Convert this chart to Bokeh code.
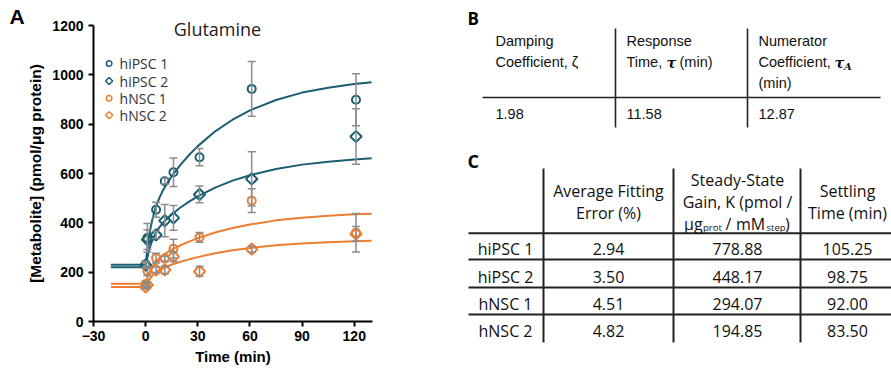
from bokeh.plotting import figure
from bokeh.models import Range1d, Whisker, ColumnDataSource, TeeHead, GridBox
from bokeh.layouts import column
from bokeh.embed import file_html
from bokeh.resources import INLINE
from bokeh.core.properties import value

TEAL = "#1A5E72"
ORANGE = "#ED7D31"
GREY = "#8C8C8C"

# ---------------- data ----------------
times = [0, 1, 6, 11, 16, 31, 61, 121]
hipsc1 = [232, 339, 453, 569, 605, 666, 943, 899]
hipsc1_err = [12, 58, 30, 12, 58, 35, 111, 105]
hipsc2 = [228, 332, 351, 409, 420, 515, 578, 750]
hipsc2_err = [10, 40, 15, 65, 50, 34, 110, 112]
hnsc1 = [152, 205, 257, 255, 295, 341, 490, 360]
hnsc1_err = [10, 20, 20, 10, 38, 20, 48, 78]
hnsc2 = [140, 148, 209, 209, 263, 203, 293, 355]
hnsc2_err = [8, 10, 12, 15, 20, 20, 12, 30]

fit_t = [-20, 0, 0.5, 1, 2, 3, 4, 5, 6, 8, 10, 12, 15, 20, 25, 30, 40, 50, 60, 75, 90, 105, 120, 130]
fit_hipsc1 = [230, 230, 265, 295, 345, 386, 418, 444, 467, 503, 532, 556, 589, 635, 675, 711, 771, 818, 856, 898, 928, 948, 963, 970]
fit_hipsc2 = [220, 220, 241, 259, 289, 313, 332, 348, 361, 383, 400, 415, 434, 462, 486, 507, 543, 571, 593, 618, 636, 648, 657, 662]
fit_hnsc1 = [153, 153, 166, 178, 197, 213, 225, 235, 244, 258, 269, 278, 291, 309, 324, 338, 361, 379, 393, 410, 421, 429, 435, 437]
fit_hnsc2 = [140, 140, 149, 156, 169, 179, 187, 194, 200, 209, 216, 222, 231, 242, 252, 261, 277, 289, 298, 309, 316, 321, 325, 327]

series_names = ["hiPSC 1", "hiPSC 2", "hNSC 1", "hNSC 2"]
x_ticks = [-30, 0, 30, 60, 90, 120]
y_ticks = [0, 200, 400, 600, 800, 1000, 1200]

# table B
b_values = ["1.98", "11.58", "12.87"]
# table C
c_rows = ["hiPSC 1", "hiPSC 2", "hNSC 1", "hNSC 2"]
c_err = ["2.94", "3.50", "4.51", "4.82"]
c_gain = ["778.88", "448.17", "294.07", "194.85"]
c_settle = ["105.25", "98.75", "92.00", "83.50"]

# ---------------- background page (letters, title, tables) ----------------
t = figure(width=891, height=369, x_range=Range1d(0, 891), y_range=Range1d(369, 0),
           output_backend="svg", toolbar_location=None, min_border=0,
           x_axis_location=None, y_axis_location=None)
t.grid.visible = False
t.outline_line_color = None
t.background_fill_color = "white"
t.border_fill_color = "white"

def txt(xs, ys, texts, font="Open Sans", size="16px", align="left", style="normal",
        color="#111111", baseline="middle"):
    t.text(x=xs, y=ys, text=texts, text_font=value(font), text_font_size=size,
           text_align=align, text_baseline=baseline, text_font_style=style, text_color=color)

AR = "Liberation Sans"
BS = "14.5px"
# panel letters and chart title
txt([9], [16], ["A"], font=AR, size="21px", style="bold", color="black")
txt([217], [28], ["Glutamine"], size="18px", align="center", color="#222222")
txt([467], [17.5], ["B"], size="17px", style="bold", color="black")
txt([467], [160], ["C"], size="18px", style="bold", color="black")

# table B
t.segment(x0=[482, 615, 747], y0=[97, 28, 28], x1=[880, 615, 747], y1=[97, 127, 127],
          line_color="#222222", line_width=1.6)
txt([495, 626, 758], [40, 40, 40], ["Damping", "Response", "Numerator"], font=AR, size=BS)
txt([495], [61.5], ["Coefficient, \u03b6"], font=AR, size=BS)
txt([626, 679], [61.5, 61.5], ["Time,", "(min)"], font=AR, size=BS)
txt([758], [61.5], ["Coefficient,"], font=AR, size=BS)
txt([666, 834], [61.5, 61.5], ["\u03c4", "\u03c4"], font="DejaVu Serif", size=BS, style="bold italic")
txt([843.5], [66], ["A"], font="DejaVu Serif", size="10px", style="bold italic")
txt([758], [82], ["(min)"], font=AR, size=BS)
txt([495, 626, 758], [113, 113, 113], b_values, font=AR, size=BS)

# table C
t.segment(x0=[543, 673, 800], y0=[168, 168, 168], x1=[543, 673, 800], y1=[342, 342, 342],
          line_color="#222222", line_width=2)
t.segment(x0=[468, 468, 468, 468], y0=[232.7, 259, 287, 314], x1=[891, 891, 891, 891],
          y1=[232.7, 259, 287, 314], line_color="#222222", line_width=2)
txt([608, 608], [190, 212], ["Average Fitting", "Error (%)"], align="center")
txt([737, 737], [179, 201.5], ["Steady-State", "Gain, K (pmol /"], align="center")
txt([683.5], [223], ["\u03bcg"])
txt([702.5], [227], ["prot"], size="9.5px")
txt([725], [223], ["/"])
txt([735.5], [223], ["mM"])
txt([766], [227], ["step"], size="9.5px")
txt([784.5], [223], [")"])
txt([847, 847], [190, 212], ["Settling", "Time (min)"], align="center")

row_y = [248, 276.5, 303, 330]
txt([505] * 4, row_y, c_rows, align="center")
txt([608] * 4, row_y, c_err, align="center")
txt([737] * 4, row_y, c_gain, align="center")
txt([847] * 4, row_y, c_settle, align="center")

# ---------------- chart (transparent, laid over the page) ----------------
p = figure(width=400, height=369, x_range=Range1d(-30, 130.5), y_range=Range1d(0, 1200),
           output_backend="svg", toolbar_location=None,
           min_border_left=93, min_border_right=28, min_border_top=25, min_border_bottom=48)
p.xgrid.visible = False
p.ygrid.visible = False
p.outline_line_color = None
p.background_fill_color = None
p.border_fill_color = None

p.xaxis.ticker = x_ticks
p.yaxis.ticker = y_ticks
for ax in (p.xaxis[0], p.yaxis[0]):
    ax.axis_line_width = 2
    ax.axis_line_color = "black"
    ax.major_tick_line_width = 2
    ax.major_tick_line_color = "black"
    ax.major_tick_in = 0
    ax.major_tick_out = 5
    ax.minor_tick_line_color = None
    ax.major_label_text_font = AR
    ax.major_label_text_font_style = "bold"
    ax.major_label_text_font_size = "14px"
    ax.major_label_text_color = "black"
    ax.axis_label_text_font = AR
    ax.axis_label_text_font_style = "bold"
    ax.axis_label_text_color = "black"
p.xaxis.axis_label = "Time (min)"
p.yaxis.axis_label = "[Metabolite] (pmol/\u03bcg protein)"
p.xaxis.axis_label_text_font_size = "15px"
p.yaxis.axis_label_text_font_size = "15.5px"
p.xaxis.major_label_standoff = 4
p.yaxis.major_label_standoff = 5
p.xaxis.axis_label_standoff = 4
p.yaxis.axis_label_standoff = 5

groups = [
    (hipsc1, hipsc1_err, fit_hipsc1, TEAL, "circle"),
    (hipsc2, hipsc2_err, fit_hipsc2, TEAL, "diamond"),
    (hnsc1, hnsc1_err, fit_hnsc1, ORANGE, "circle"),
    (hnsc2, hnsc2_err, fit_hnsc2, ORANGE, "diamond"),
]

for vals, errs, fit, col, mk in groups:
    p.line(fit_t, fit, line_color=col, line_width=2)

for vals, errs, fit, col, mk in groups:
    src = ColumnDataSource(dict(x=times, upper=[v + e for v, e in zip(vals, errs)],
                                lower=[v - e for v, e in zip(vals, errs)]))
    w = Whisker(source=src, base="x", upper="upper", lower="lower",
                line_color=GREY, line_width=1.5, level="glyph",
                upper_head=TeeHead(size=8, line_color=GREY, line_width=1.5),
                lower_head=TeeHead(size=8, line_color=GREY, line_width=1.5))
    p.add_layout(w)

for vals, errs, fit, col, mk in groups:
    if mk == "circle":
        p.scatter(times, vals, marker="circle", size=8, line_color=col, line_width=2, fill_color=None)
    else:
        p.scatter(times, vals, marker="square", angle=0.785398, size=8, line_color=col,
                  line_width=2, fill_color=None)

# legend (drawn by hand so diamonds keep their shape)
leg_x = -21.0
leg_tx = -15.0
leg_y = [1046, 975, 905, 836]
leg_cols = [TEAL, TEAL, ORANGE, ORANGE]
leg_mk = ["circle", "diamond", "circle", "diamond"]
for yy, c, m in zip(leg_y, leg_cols, leg_mk):
    if m == "circle":
        p.scatter([leg_x], [yy], marker="circle", size=5.5, line_color=c, line_width=1.5, fill_color=None)
    else:
        p.scatter([leg_x], [yy], marker="square", angle=0.785398, size=5, line_color=c,
                  line_width=1.5, fill_color=None)
p.text(x=[leg_tx] * 4, y=leg_y, text=series_names, text_font=value("Open Sans"),
       text_font_size="14px", text_color="#333333", text_baseline="middle", text_align="left")

layout = GridBox(children=[(column(t), 0, 0), (column(p), 0, 0)])
open("out.html", "w").write(file_html(layout, INLINE))
